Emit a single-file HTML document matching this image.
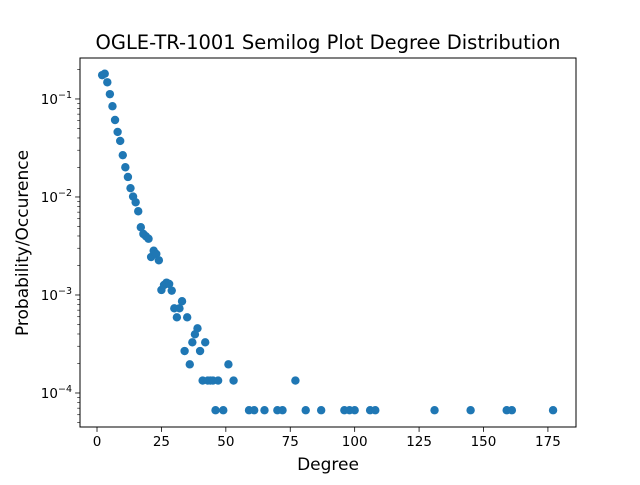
<!DOCTYPE html>
<html><head><meta charset="utf-8"><style>
html,body{margin:0;padding:0;background:#fff;}
svg text{font-family:"DejaVu Sans","Liberation Sans",sans-serif;fill:#000;}
</style></head>
<body>
<svg id="chart" width="640" height="480" viewBox="0 0 640 480" xmlns="http://www.w3.org/2000/svg">
<rect x="0" y="0" width="640" height="480" fill="#fff"/>
<text x="328" y="49" font-size="19.5" text-anchor="middle">OGLE-TR-1001 Semilog Plot Degree Distribution</text>
<text x="328" y="470" font-size="17" text-anchor="middle">Degree</text>
<text x="0" y="0" font-size="17" text-anchor="middle" transform="translate(28,243) rotate(-90)">Probability/Occurence</text>
<g id="marks"></g>
<g id="axes"></g>
</svg>
<script>
const degrees = [2,3,4,5,6,7,8,9,10,11,12,13,14,15,16,17,18,19,20,21,22,23,24,
  25,26,27,28,29,30,32,33,31,35,39,38,37,42,34,40,36,51,41,43,44,45,47,53,77,
  46,49,59,61,65,70,72,81,87,96,98,100,106,108,131,145,159,161,177];
const probs = [0.175,0.181,0.148,0.112,0.0843,0.0610,0.0461,0.0373,0.0267,0.0201,0.0160,0.0123,0.0101,0.00883,0.00715,0.00491,0.00419,0.00397,0.00375,0.00244,0.00283,0.00262,0.00226,
  0.001125,0.001265,0.001336,0.001295,0.001107,0.000731,0.000731,0.000863,0.000592,0.000592,0.000457,0.000397,0.000329,0.000329,0.000268,0.000268,0.000196,0.000196,0.000134,0.000134,0.000134,0.000134,0.000134,0.000134,0.000134,
  0.0000667,0.0000667,0.0000667,0.0000667,0.0000667,0.0000667,0.0000667,0.0000667,0.0000667,0.0000667,0.0000667,0.0000667,0.0000667,0.0000667,0.0000667,0.0000667,0.0000667,0.0000667,0.0000667];
const xTicks = [0,25,50,75,100,125,150,175];
const yTickExps = [-1,-2,-3,-4];

const L=80,R=576,T=58,B=427;
const xMin=-6.6,xMax=185.9;
const yLogMin=-4.347,yLogMax=-0.582;
const NS='http://www.w3.org/2000/svg';
function xs(v){return L+(v-xMin)/(xMax-xMin)*(R-L);}
function ys(v){return B-(Math.log10(v)-yLogMin)/(yLogMax-yLogMin)*(B-T);}
function mk(tag,attrs,parent){const e=document.createElementNS(NS,tag);for(const k in attrs)e.setAttribute(k,attrs[k]);parent.appendChild(e);return e;}

const marks=document.getElementById('marks');
for(let i=0;i<degrees.length;i++){
  const c=mk('circle',{cx:xs(degrees[i]),cy:ys(probs[i]),r:4.2,fill:'#1f77b4'},marks);
  
  
}
const axes=document.getElementById('axes');
const frame=mk('rect',{x:L,y:T,width:R-L,height:B-T,fill:'none',stroke:'#000','stroke-width':1},axes);


xTicks.forEach(t=>{
  const x=xs(t);
  mk('line',{x1:x,y1:B,x2:x,y2:B+4.9,stroke:'#000','stroke-width':0.8},axes);
  const tx=mk('text',{x:x,y:B+19,'font-size':13.5,'text-anchor':'middle'},axes);
  tx.textContent=t;
  
  
});
for(let e=-5;e<=0;e++){
  for(let m=2;m<=9;m++){
    const v=m*Math.pow(10,e);const y=ys(v);
    if(y<T||y>B)continue;
    mk('line',{x1:L-2.8,y1:y,x2:L,y2:y,stroke:'#000','stroke-width':0.6},axes);
  }
}
yTickExps.forEach(e=>{
  const y=ys(Math.pow(10,e));
  mk('line',{x1:L-4.9,y1:y,x2:L,y2:y,stroke:'#000','stroke-width':0.8},axes);
  const tx=mk('text',{x:L-8,y:y+5,'font-size':13.5,'text-anchor':'end'},axes);
  
  
  tx.appendChild(document.createTextNode('10'));
  const sp=mk('tspan',{dy:-6,'font-size':9.5},tx);
  sp.textContent='\u2212'+Math.abs(e);
});
</script>
</body></html>
